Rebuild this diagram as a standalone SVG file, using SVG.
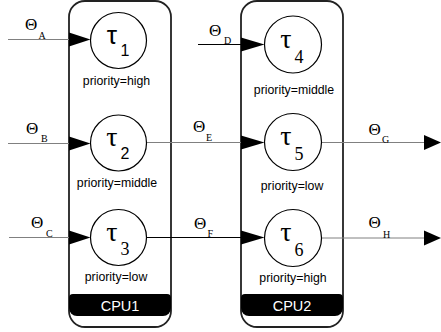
<svg xmlns="http://www.w3.org/2000/svg" width="441" height="332" viewBox="0 0 441 332">
<style>
.box{fill:#fff;stroke:#222;stroke-width:1.8}
.band{fill:#000}
.cpu{font-family:"Liberation Sans",Arial,sans-serif;font-size:14.5px;fill:#fff;text-anchor:middle}
.node{fill:#fff;stroke:#000;stroke-width:1.2}
.pri{font-family:"Liberation Sans",Arial,sans-serif;font-size:12.3px;fill:#000;text-anchor:middle}
.tau{font-family:"Liberation Serif","Times New Roman",serif;font-size:28px;fill:#000;text-anchor:middle}
.taus{font-family:"Liberation Sans",Arial,sans-serif;font-size:26px;fill:#000;text-anchor:middle}
.sub{font-family:"Liberation Serif","Times New Roman",serif;font-size:18px;fill:#000;text-anchor:middle}
.subs{font-family:"Liberation Sans",Arial,sans-serif;font-size:16px;fill:#000;text-anchor:middle}
.th{font-family:"Liberation Serif","Times New Roman",serif;font-size:17px;fill:#000}
.ths{font-family:"Liberation Serif","Times New Roman",serif;font-size:10px;fill:#000}
.g{stroke:#808080;stroke-width:1;fill:none}
.k{stroke:#000;stroke-width:1;fill:none}
.ah{fill:#000}
</style>
<g id="cpu1">
<rect class="box" x="69" y="1" width="102" height="326" rx="16"/>
<path class="band" d="M69,298 a4,4 0 0 1 4,-4 h94 a4,4 0 0 1 4,4 v10 a8,8 0 0 1 -8,8 h-86 a8,8 0 0 1 -8,-8 z"/>
<text class="cpu" x="120" y="310.5">CPU1</text>
</g>
<g id="cpu2">
<rect class="box" x="241" y="1" width="102" height="326" rx="16"/>
<path class="band" d="M241,298 a4,4 0 0 1 4,-4 h94 a4,4 0 0 1 4,4 v10 a8,8 0 0 1 -8,8 h-86 a8,8 0 0 1 -8,-8 z"/>
<text class="cpu" x="292" y="310.5">CPU2</text>
</g>
<g id="connectors">
<line class="g" x1="8" y1="39.5" x2="70" y2="39.5"/>
<polygon class="ah" points="69,32.5 90.5,39.5 69,46.5"/>
<line class="g" x1="8" y1="143.5" x2="70" y2="143.5"/>
<polygon class="ah" points="69,136.5 90.5,143.5 69,150.5"/>
<line class="g" x1="9" y1="237.5" x2="70" y2="237.5"/>
<polygon class="ah" points="69,230.5 90.5,237.5 69,244.5"/>
<line class="k" x1="198" y1="44.5" x2="242" y2="44.5"/>
<polygon class="ah" points="241,37.5 264.5,44.5 241,51.5"/>
<line class="g" x1="146.5" y1="142.5" x2="242" y2="142.5"/>
<polygon class="ah" points="241,135.5 264.5,142.5 241,149.5"/>
<line class="k" x1="146.5" y1="237.5" x2="242" y2="237.5"/>
<polygon class="ah" points="241,230.5 264.5,237.5 241,244.5"/>
<line class="g" x1="321.5" y1="142.5" x2="425" y2="142.5"/>
<polygon class="ah" points="424,135 441,142.5 424,150"/>
<line class="g" x1="321.5" y1="238" x2="425" y2="238"/>
<polygon class="ah" points="424,230.5 441,238 424,245.5"/>
<text class="th" x="25" y="30">Θ</text><text class="ths" x="38.5" y="38.5">A</text>
<text class="th" x="26" y="133.5">Θ</text><text class="ths" x="41" y="142">B</text>
<text class="th" x="31" y="228">Θ</text><text class="ths" x="46" y="237">C</text>
<text class="th" x="209" y="35.5">Θ</text><text class="ths" x="224" y="43.5">D</text>
<text class="th" x="193" y="132">Θ</text><text class="ths" x="206" y="140.5">E</text>
<text class="th" x="194" y="228.5">Θ</text><text class="ths" x="207.5" y="237">F</text>
<text class="th" x="368.5" y="135">Θ</text><text class="ths" x="382" y="143">G</text>
<text class="th" x="368.5" y="227.5">Θ</text><text class="ths" x="383" y="237.5">H</text>
</g>
<g id="tau1">
<circle class="node" cx="118.5" cy="40.5" r="28"/>
<text class="taus" x="112" y="44">τ</text><text class="subs" x="125" y="55.5">1</text>
<text class="pri" x="116.5" y="85">priority=high</text>
</g>
<g id="tau2">
<circle class="node" cx="118.5" cy="143" r="28"/>
<text class="tau" x="112" y="146">τ</text><text class="subs" x="125" y="159">2</text>
<text class="pri" x="117" y="187">priority=middle</text>
</g>
<g id="tau3">
<circle class="node" cx="118.5" cy="237.5" r="28"/>
<text class="tau" x="112" y="240.5">τ</text><text class="sub" x="125" y="254.5">3</text>
<text class="pri" x="116" y="280.5">priority=low</text>
</g>
<g id="tau4">
<circle class="node" cx="293" cy="44.5" r="28.5"/>
<text class="tau" x="286" y="47.5">τ</text><text class="sub" x="299" y="63">4</text>
<text class="pri" x="294" y="94">priority=middle</text>
</g>
<g id="tau5">
<circle class="node" cx="293" cy="142" r="28.5"/>
<text class="tau" x="286" y="145">τ</text><text class="sub" x="299" y="160">5</text>
<text class="pri" x="292" y="190">priority=low</text>
</g>
<g id="tau6">
<circle class="node" cx="293" cy="238" r="28.5"/>
<text class="tau" x="286" y="241">τ</text><text class="sub" x="299" y="256">6</text>
<text class="pri" x="293" y="281.5">priority=high</text>
</g>
</svg>
